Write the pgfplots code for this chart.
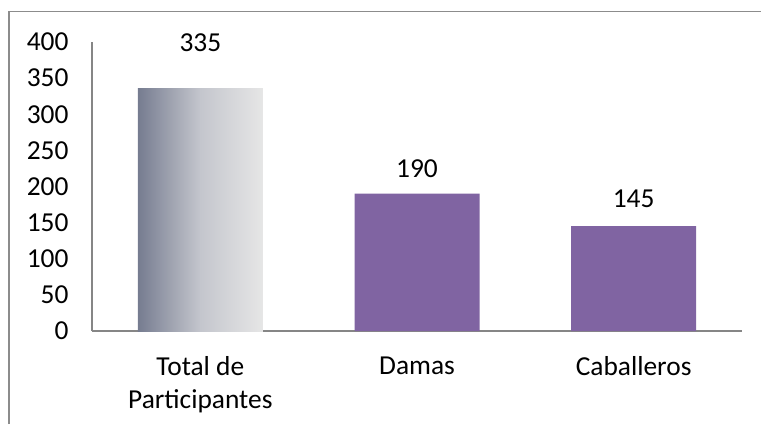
\documentclass[border=0pt]{standalone}
\usepackage{pgfplots}
\pgfplotsset{compat=1.18}
\usepackage{fontspec}
\setmainfont{Carlito}
\definecolor{barpurple}{HTML}{8064A2}
\definecolor{axisgray}{HTML}{868686}
\definecolor{framegray}{HTML}{8C8C8C}
\definecolor{gradleft}{HTML}{767C90}
\definecolor{gradmid}{HTML}{C4C6CD}
\definecolor{gradright}{HTML}{E6E6E6}
\newcommand{\bigf}{\fontsize{27.5}{33}\selectfont}
\begin{document}
\begin{tikzpicture}[x=1bp,y=1bp]
\path[use as bounding box] (0,0) rectangle (761,424);
\draw[framegray, line width=1.2bp] (9,0) -- (9,412.5) -- (761,412.5);
\begin{axis}[
  at={(92bp,93bp)}, anchor=south west,
  scale only axis, width=650bp, height=289bp,
  xmin=-0.5, xmax=2.5, ymin=0, ymax=400,
  axis x line*=bottom, axis y line*=left,
  axis line style={axisgray, line width=1.2bp},
  major tick length=0pt,
  ytick={0,50,...,400},
  xtick={0,1,2},
  xticklabels={{Total de\\Participantes},Damas,Caballeros},
  xticklabel style={align=center, font=\bigf, yshift=-22bp},
  yticklabel style={font=\bigf, xshift=-20bp},
  /pgf/number format/assume math mode=true,
  ybar, bar width=125bp, bar shift=0pt,
  clip=false,
]
\addplot[draw=none, left color=gradleft, right color=gradright, middle color=gradmid] coordinates {(0,335)};
\addplot[draw=none, fill=barpurple] coordinates {(1,190) (2,145)};
\node[font=\bigf] at (axis cs:0,398.6) {335};
\node[font=\bigf] at (axis cs:1,224.2) {190};
\node[font=\bigf] at (axis cs:2,182.7) {145};
\end{axis}
\end{tikzpicture}
\end{document}
